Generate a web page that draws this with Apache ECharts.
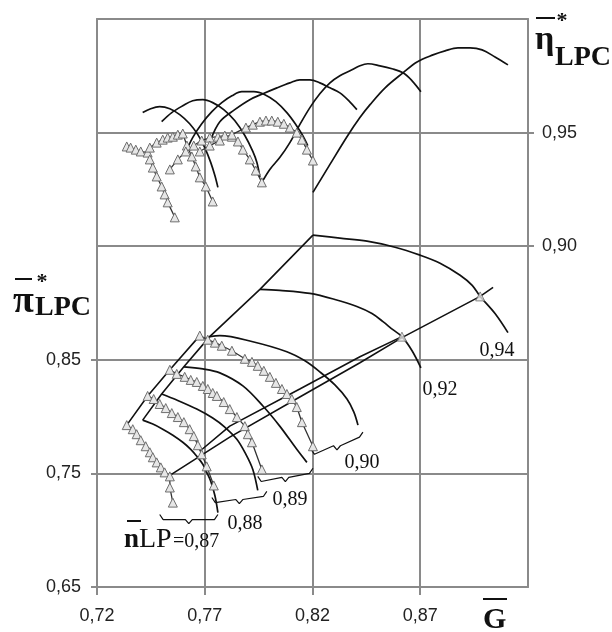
<!DOCTYPE html>
<html><head><meta charset="utf-8">
<script src="https://cdn.jsdelivr.net/npm/echarts@6/dist/echarts.min.js"></script>
<style>html,body{margin:0;padding:0;background:#fff}#c{width:612px;height:632px}</style>
</head><body><div id="c"></div>
<script>
// ---- tick values ----
const xTicks = [0.72, 0.77, 0.82, 0.87];
const piTicks = [0.65, 0.75, 0.85];
const etaTicks = [0.90, 0.95];

// ---- calculated pressure-ratio characteristics [G, pi] ----
const piCalc087 = [[0.7412,0.7969],[0.7459,0.7934],[0.7505,0.7889],[0.7552,0.7836],[0.7598,0.7774],[0.7635,0.7712],[0.7663,0.7651],[0.7691,0.7580],[0.7709,0.7509],[0.7728,0.7429],[0.7747,0.7305],[0.7761,0.7155]];
const piCalc088 = [[0.7500,0.8199],[0.7570,0.8146],[0.7663,0.8066],[0.7737,0.7987],[0.7793,0.7907],[0.7849,0.7801],[0.7891,0.7668],[0.7923,0.7535],[0.7946,0.7350]];
const piCalc089 = [[0.7603,0.8438],[0.7691,0.8420],[0.7770,0.8385],[0.7877,0.8270],[0.7970,0.8093],[0.8048,0.7916],[0.8127,0.7712],[0.8174,0.7597]];
const piCalc090 = [[0.7723,0.8704],[0.7770,0.8713],[0.7923,0.8659],[0.8081,0.8571],[0.8165,0.8491],[0.8234,0.8394],[0.8304,0.8279],[0.8360,0.8155],[0.8392,0.8040],[0.8411,0.7925]];
const piCalc092 = [[0.7956,0.9120],[0.8048,0.9111],[0.8188,0.9084],[0.8304,0.9031],[0.8406,0.8969],[0.8476,0.8907],[0.8527,0.8836],[0.8573,0.8765],[0.8615,0.8704],[0.8662,0.8580],[0.8703,0.8429]];
const piCalc094 = [[0.8202,0.9598],[0.8327,0.9571],[0.8453,0.9544],[0.8583,0.9491],[0.8699,0.9421],[0.8792,0.9350],[0.8885,0.9244],[0.8941,0.9155],[0.8978,0.9058],[0.9047,0.8907],[0.9107,0.8739]];
const piSurgeCalc = [[0.7412,0.7969],[0.7500,0.8199],[0.7603,0.8438],[0.7723,0.8704],[0.7956,0.9120],[0.8202,0.9598]];

// ---- experimental pressure-ratio characteristics ----
const piExp087 = [[0.7338,0.7925],[0.7366,0.7889],[0.7384,0.7845],[0.7403,0.7792],[0.7426,0.7739],[0.7445,0.7686],[0.7459,0.7642],[0.7477,0.7597],[0.7496,0.7553],[0.7514,0.7509],[0.7538,0.7474],[0.7538,0.7376],[0.7552,0.7243]];
const piExp088 = [[0.7435,0.8182],[0.7463,0.8155],[0.7491,0.8111],[0.7519,0.8075],[0.7547,0.8031],[0.7575,0.7996],[0.7603,0.7951],[0.7630,0.7889],[0.7649,0.7828],[0.7668,0.7748],[0.7686,0.7668],[0.7709,0.7562],[0.7742,0.7394]];
const piExp089 = [[0.7538,0.8412],[0.7570,0.8376],[0.7607,0.8350],[0.7635,0.8323],[0.7663,0.8305],[0.7691,0.8270],[0.7714,0.8243],[0.7737,0.8208],[0.7756,0.8182],[0.7788,0.8128],[0.7816,0.8066],[0.7849,0.7996],[0.7886,0.7916],[0.7900,0.7845],[0.7919,0.7774],[0.7965,0.7535]];
const piExp090 = [[0.7677,0.8713],[0.7714,0.8677],[0.7747,0.8651],[0.7779,0.8624],[0.7826,0.8580],[0.7886,0.8509],[0.7919,0.8482],[0.7946,0.8447],[0.7974,0.8403],[0.8002,0.8350],[0.8030,0.8297],[0.8058,0.8243],[0.8081,0.8199],[0.8104,0.8155],[0.8127,0.8084],[0.8151,0.7951],[0.8202,0.7739]];
const piSurgeExp = [[0.7338,0.7925],[0.7435,0.8182],[0.7538,0.8412],[0.7677,0.8713]];

// ---- operating lines ----
const workLineA = [[0.7538,0.7482],[0.7816,0.7819],[0.8141,0.8173],[0.8420,0.8474],[0.8615,0.8695],[0.8978,0.9058],[0.9038,0.9137]];
const workLineB = [[0.7677,0.7695],[0.7816,0.7916],[0.8141,0.8243],[0.8420,0.8527],[0.8615,0.8704]];
const workPoints = [[0.8615,0.8704],[0.8978,0.9058]];

// ---- calculated efficiency characteristics [G, eta] ----
const etaCalc087 = [[0.7412,0.9588],[0.7449,0.9605],[0.7491,0.9614],[0.7538,0.9605],[0.7584,0.9579],[0.7630,0.9539],[0.7668,0.9491],[0.7700,0.9434],[0.7728,0.9368],[0.7747,0.9311],[0.7761,0.9259]];
const etaCalc088 = [[0.7500,0.9548],[0.7547,0.9588],[0.7598,0.9618],[0.7644,0.9640],[0.7691,0.9645],[0.7737,0.9632],[0.7788,0.9601],[0.7839,0.9553],[0.7886,0.9487],[0.7923,0.9417],[0.7942,0.9368],[0.7956,0.9303]];
const etaCalc089 = [[0.7607,0.9404],[0.7644,0.9478],[0.7686,0.9539],[0.7733,0.9592],[0.7779,0.9632],[0.7826,0.9662],[0.7872,0.9680],[0.7928,0.9680],[0.7979,0.9667],[0.8030,0.9636],[0.8081,0.9588],[0.8123,0.9535],[0.8155,0.9487],[0.8178,0.9443]];
const etaCalc090 = [[0.7728,0.9469],[0.7770,0.9548],[0.7839,0.9601],[0.7909,0.9645],[0.7970,0.9671],[0.8035,0.9697],[0.8095,0.9719],[0.8141,0.9732],[0.8188,0.9732],[0.8234,0.9719],[0.8281,0.9697],[0.8327,0.9675],[0.8369,0.9640],[0.8406,0.9601]];
const etaCalc092 = [[0.7965,0.9281],[0.8002,0.9338],[0.8048,0.9390],[0.8095,0.9456],[0.8141,0.9535],[0.8188,0.9610],[0.8234,0.9671],[0.8281,0.9719],[0.8327,0.9750],[0.8374,0.9772],[0.8420,0.9794],[0.8457,0.9803],[0.8513,0.9794],[0.8569,0.9781],[0.8620,0.9763],[0.8662,0.9728],[0.8703,0.9680]];
const etaCalc094 = [[0.8202,0.9237],[0.8281,0.9360],[0.8360,0.9482],[0.8420,0.9566],[0.8467,0.9623],[0.8537,0.9697],[0.8620,0.9763],[0.8685,0.9811],[0.8759,0.9842],[0.8815,0.9860],[0.8875,0.9873],[0.8931,0.9873],[0.8987,0.9864],[0.9047,0.9833],[0.9107,0.9798]];

// ---- experimental efficiency characteristics ----
const etaExp087 = [[0.7338,0.9439],[0.7356,0.9434],[0.7380,0.9425],[0.7403,0.9417],[0.7435,0.9412],[0.7445,0.9382],[0.7459,0.9346],[0.7477,0.9307],[0.7500,0.9263],[0.7514,0.9228],[0.7528,0.9193],[0.7561,0.9127]];
const etaExp088 = [[0.7445,0.9434],[0.7477,0.9456],[0.7505,0.9469],[0.7528,0.9478],[0.7552,0.9482],[0.7575,0.9491],[0.7598,0.9496],[0.7617,0.9443],[0.7640,0.9395],[0.7658,0.9351],[0.7677,0.9303],[0.7705,0.9263],[0.7737,0.9197]];
const etaExp089 = [[0.7538,0.9338],[0.7575,0.9382],[0.7612,0.9417],[0.7649,0.9443],[0.7686,0.9465],[0.7723,0.9478],[0.7761,0.9482],[0.7793,0.9487],[0.7826,0.9482],[0.7854,0.9461],[0.7877,0.9425],[0.7909,0.9382],[0.7937,0.9333],[0.7965,0.9281]];
const etaExp090 = [[0.7677,0.9417],[0.7723,0.9443],[0.7770,0.9465],[0.7826,0.9491],[0.7891,0.9522],[0.7923,0.9535],[0.7956,0.9548],[0.7984,0.9553],[0.8011,0.9553],[0.8039,0.9548],[0.8067,0.9539],[0.8095,0.9522],[0.8127,0.9500],[0.8151,0.9469],[0.8174,0.9425],[0.8202,0.9377]];

// ---- braces under curve ends: [G1, pi1, G2, pi2] ----
const braceSpans = [[0.7491,0.7093,0.7761,0.7093],[0.7733,0.7243,0.7988,0.7297],[0.7946,0.7429,0.8202,0.7500],[0.8193,0.7668,0.8434,0.7819]];

const fmt = v => (+v).toFixed(2).replace('.', ',');
const GRID = '#8a8a8a';
const series = [];
function calc(data, yIdx){ series.push({type:'line', data, yAxisIndex:yIdx, smooth:0.35, showSymbol:false, symbol:'none', lineStyle:{color:'#111', width:1.7}, z:3}); }
function exp(data, yIdx){ series.push({type:'line', data, yAxisIndex:yIdx, symbol:'triangle', symbolSize:9, showSymbol:true, itemStyle:{color:'#e6e6e6', borderColor:'#6e6e6e', borderWidth:1}, lineStyle:{color:'#333', width:1.3}, z:4}); }
function plain(data, yIdx){ series.push({type:'line', data, yAxisIndex:yIdx, showSymbol:false, symbol:'none', lineStyle:{color:'#111', width:1.6}, z:3}); }

[piCalc087,piCalc088,piCalc089,piCalc090,piCalc092,piCalc094].forEach(d=>calc(d,0));
plain(piSurgeCalc,0); plain(piSurgeExp,0);
plain(workLineA,0); plain(workLineB,0);
[piExp087,piExp088,piExp089,piExp090].forEach(d=>exp(d,0));
series.push({type:'scatter', data:workPoints, yAxisIndex:0, symbol:'triangle', symbolSize:9, itemStyle:{color:'#e6e6e6', borderColor:'#6e6e6e', borderWidth:1}, z:5});
[etaCalc087,etaCalc088,etaCalc089,etaCalc090,etaCalc092,etaCalc094].forEach(d=>calc(d,1));
[etaExp087,etaExp088,etaExp089,etaExp090].forEach(d=>exp(d,1));
braceSpans.forEach(([x1,y1,x2,y2])=>{
  const h=0.0045, dx=0.0016, xm=(x1+x2)/2, ym=(y1+y2)/2;
  series.push({type:'line', yAxisIndex:0, showSymbol:false, symbol:'none', lineStyle:{color:'#111', width:1.2}, z:3,
    data:[[x1,y1+h],[x1+dx,y1],[xm-dx,ym],[xm,ym-h*0.8],[xm+dx,ym],[x2-dx,y2],[x2,y2+h]]});
});

const SERIF = '"Liberation Serif","Times New Roman",serif';
function txt(x,y,text,font,align){ return {type:'text', x, y, z:10, style:{text, font, fill:'#111', align:align||'left', verticalAlign:'middle'}}; }
function bar(x1,x2,y){ return {type:'line', z:10, shape:{x1,y1:y,x2,y2:y}, style:{stroke:'#111', lineWidth:2}}; }

const graphic = [
  txt(497,351,'0,94','20px '+SERIF,'center'),
  txt(440,390,'0,92','20px '+SERIF,'center'),
  txt(362,463,'0,90','20px '+SERIF,'center'),
  txt(290,500,'0,89','20px '+SERIF,'center'),
  txt(245,524,'0,88','20px '+SERIF,'center'),
  txt(124,540,'n','bold 27px '+SERIF),
  txt(139,540,'LP','28px '+SERIF),
  txt(173,542,'=0,87','20px '+SERIF),
  bar(127,141,521),
  txt(13,302,'π','bold 38px '+SERIF),
  txt(35,308,'LPC','bold 28px '+SERIF),
  bar(15,32,279),
  txt(42,282,'*','bold 22px '+SERIF,'center'),
  txt(535,40,'η','bold 34px '+SERIF),
  txt(555,58,'LPC','bold 28px '+SERIF),
  bar(536,555,18),
  txt(562,21,'*','bold 22px '+SERIF,'center'),
  txt(483,620,'G','bold 30px '+SERIF),
  bar(483,507,599)
];

const axisLbl = {fontSize:18, color:'#222', fontFamily:'"Liberation Sans",Arial,sans-serif', formatter:fmt};
const chart = echarts.init(document.getElementById('c'), null, {renderer:'canvas'});
chart.setOption({
  animation:false,
  backgroundColor:'#fff',
  grid:{left:97, right:84, top:19, bottom:45, containLabel:false},
  xAxis:[
    {type:'value', position:'bottom', min:0.72, max:0.92, interval:0.05,
      axisLine:{show:true, onZero:false, lineStyle:{color:GRID, width:2}},
      axisTick:{show:true, customValues:xTicks, length:8, lineStyle:{color:GRID, width:2}},
      axisLabel:Object.assign({customValues:xTicks, margin:20}, axisLbl),
      splitLine:{show:true, lineStyle:{color:GRID, width:2}}},
    {type:'value', position:'top', min:0.72, max:0.92, interval:0.05,
      axisLine:{show:true, onZero:false, lineStyle:{color:GRID, width:2}},
      axisTick:{show:false}, axisLabel:{show:false}, splitLine:{show:false}}
  ],
  yAxis:[
    {type:'value', position:'left', min:0.65, max:1.15, interval:0.1,
      axisLine:{show:true, onZero:false, lineStyle:{color:GRID, width:2}},
      axisTick:{show:true, customValues:piTicks, length:6, lineStyle:{color:GRID, width:2}},
      axisLabel:Object.assign({customValues:piTicks, margin:16}, axisLbl),
      splitLine:{show:true, lineStyle:{color:GRID, width:2}}},
    {type:'value', position:'right', min:0.75, max:1.0, interval:0.05,
      axisLine:{show:true, onZero:false, lineStyle:{color:GRID, width:2}},
      axisTick:{show:true, customValues:etaTicks, length:6, lineStyle:{color:GRID, width:2}},
      axisLabel:Object.assign({customValues:etaTicks, margin:14}, axisLbl),
      splitLine:{show:true, lineStyle:{color:GRID, width:2}}}
  ],
  series,
  graphic
});
</script></body></html>
